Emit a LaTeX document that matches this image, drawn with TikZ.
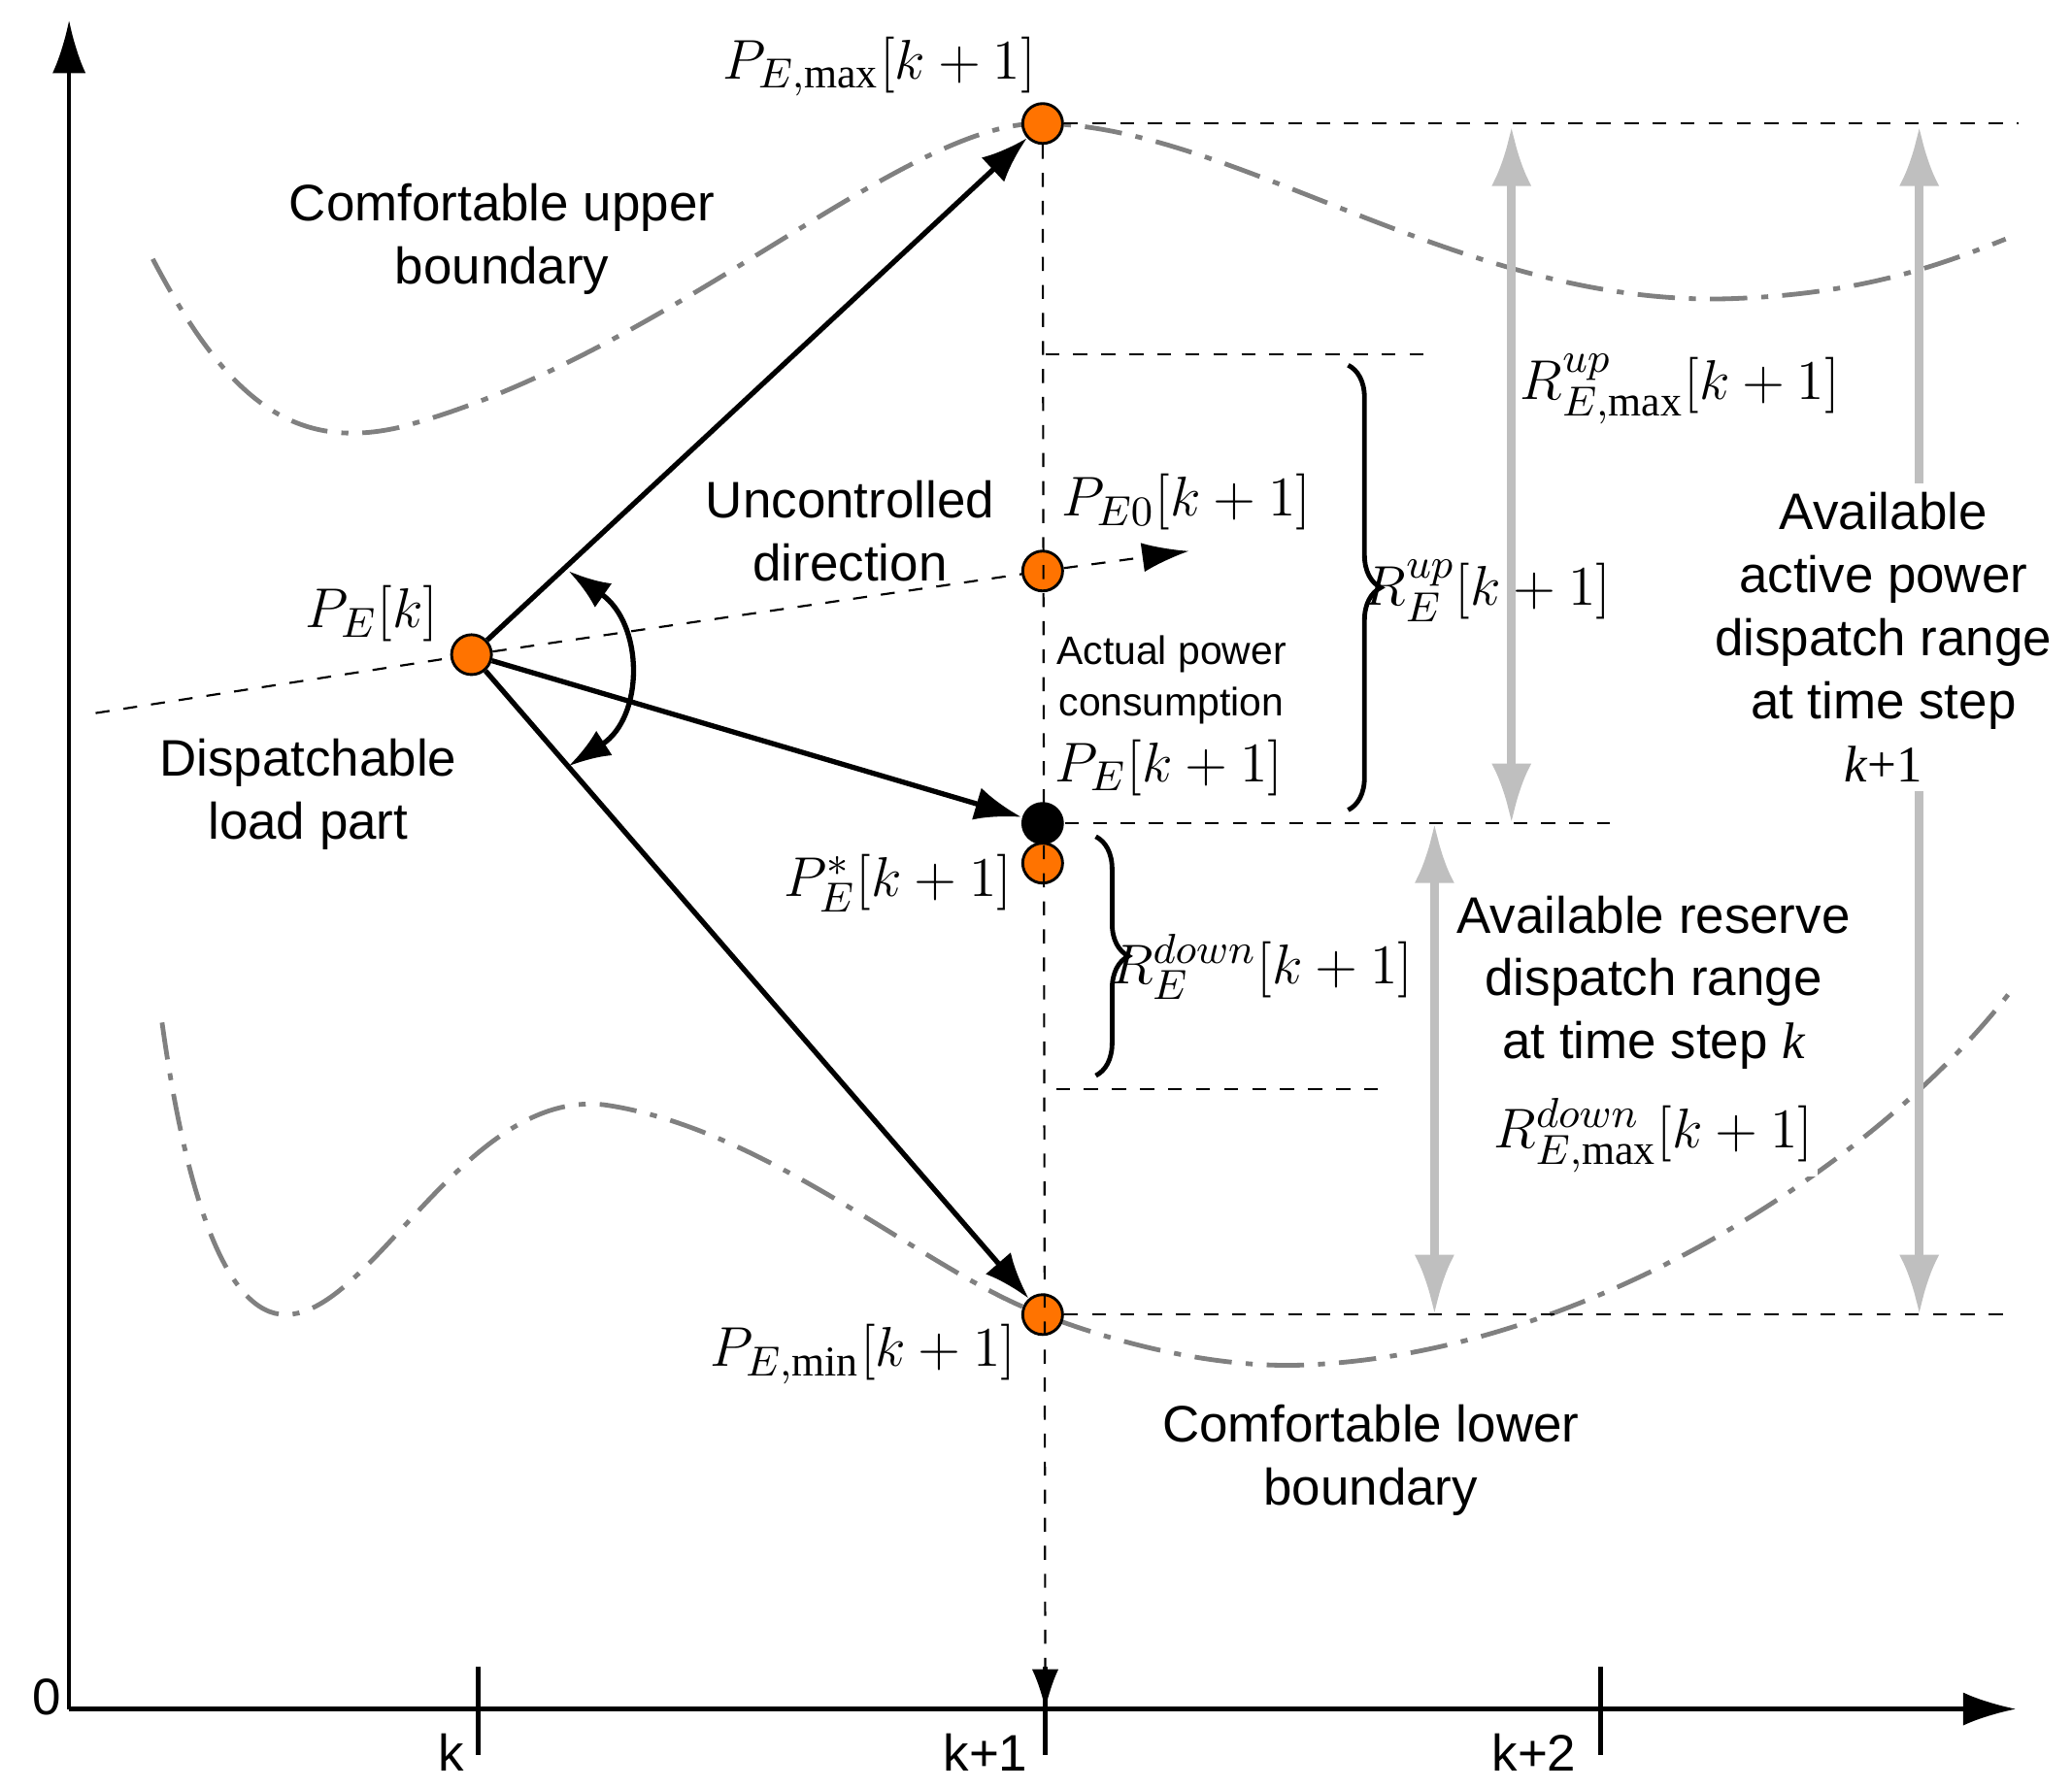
\documentclass[tikz,border=0pt]{standalone}
\usepackage{fontspec}
\setmainfont{Liberation Serif}
\newfontfamily\sfa{Liberation Sans}
\usetikzlibrary{arrows.meta,decorations.pathreplacing}
\begin{document}
\begin{tikzpicture}[x=0.01cm,y=-0.01cm,
  dot/.style={circle,draw=black,fill=orange!90!red,minimum size=0.3cm,inner sep=0pt,line width=0.6pt},
  main/.style={line width=1.1pt,-{Latex[length=0.35cm,width=0.25cm]}},
  dsh/.style={dashed,line width=0.45pt},
  bnd/.style={gray,line width=1pt,dash pattern=on 8pt off 3pt on 1.5pt off 3pt},
  garr/.style={gray!50,line width=1.8pt,{Latex[length=0.45cm,width=0.3cm]}-{Latex[length=0.45cm,width=0.3cm]}},
  brc/.style={line width=1pt,decoration={brace,amplitude=7pt},decorate},
  lbl/.style={font=\sfa\fontsize{11}{13.5}\selectfont,align=center},
  mth/.style={font=\fontsize{13}{15}\selectfont}]
\useasboundingbox (0,0) rectangle (1560,1347);
% axes
\coordinate (o) at (52,1287);
\coordinate (yt) at (52,15);
\coordinate (xt) at (1518,1287);
\draw[line width=0.9pt,-{Latex[length=0.4cm,width=0.25cm]}] (o)--(yt);
\draw[line width=0.9pt,-{Latex[length=0.4cm,width=0.25cm]}] (o)--(xt);
\node[lbl] at (35,1278) {0};
\foreach \x in {360,787,1205}{\draw[line width=1.1pt] (\x,1255)--(\x,1322);}
\node[lbl] at (340,1320) {k};
\node[lbl] at (742,1320) {k+1};
\node[lbl] at (1155,1320) {k+2};
% boundaries
\draw[bnd] (115,195) .. controls (170,300) and (220,340) .. (300,322)
  .. controls (500,270) and (680,90) .. (785,93)
  .. controls (930,95) and (1100,230) .. (1300,225)
  .. controls (1400,222) and (1460,200) .. (1510,180);
\draw[bnd] (122,770) .. controls (140,900) and (170,990) .. (215,990)
  .. controls (280,990) and (350,820) .. (455,832)
  .. controls (580,850) and (700,960) .. (785,990)
  .. controls (850,1015) and (920,1030) .. (980,1028)
  .. controls (1200,1020) and (1420,870) .. (1515,745);
% points
\node[dot] (pk) at (355,493) {};
\node[dot] (pmax) at (785,93) {};
\node[dot] (p0) at (785,430) {};
\node[dot] (pst) at (785,650) {};
\node[dot] (pmin) at (785,990) {};
\node[circle,fill=black,minimum size=0.32cm,inner sep=0pt] (pe) at (785,620) {};
\coordinate (dl) at (72,537);
\coordinate (dr) at (895,415);
\draw[dsh] (dl)--(pk);
\draw[dsh,-{Latex[length=0.35cm,width=0.22cm]}] (pk)--(p0)--(dr);
\coordinate (vb) at (787,1287);
\draw[dsh,-{Latex[length=0.3cm,width=0.2cm]}] (pmax)--(vb);
\draw[dsh] (pmax)--(1520,93);
\draw[dsh] (787,267)--(1078,267);
\draw[dsh] (pe)--(1212,620);
\draw[dsh] (795,820)--(1037,820);
\draw[dsh] (pmin)--(1515,990);
% main arrows
\draw[main] (pk)--(pmax);
\draw[main] (pk)--(pe);
\draw[main] (pk)--(pmin);
\draw[line width=1.1pt,{Latex[length=0.32cm,width=0.22cm]}-{Latex[length=0.32cm,width=0.22cm]}] (428,430) .. controls (485,470) and (485,540) .. (428,577);
% gray arrows
\draw[garr] (1138,95)--(1138,620);
\draw[garr] (1080,620)--(1080,990);
\draw[garr] (1445,95)--(1445,990);
% braces
\draw[brc] (1015,275)--(1015,610);
\draw[brc] (825,630)--(825,810);
% labels
\node[mth] at (662,50) {$P_{E,\max}[k+1]$};
\node[mth] at (280,462) {$P_{E}[k]$};
\node[mth] at (893,378) {$P_{E0}[k+1]$};
\node[mth] at (880,578) {$P_{E}[k+1]$};
\node[mth] at (676,665) {$P^{*}_{E}[k+1]$};
\node[mth] at (650,1020) {$P_{E,\min}[k+1]$};
\node[mth] at (1120,445) {$R^{up}_{E}[k+1]$};
\node[mth] at (950,728) {$R^{down}_{E}[k+1]$};
\node[mth,fill=white,inner sep=1pt] at (1265,293) {$R^{up}_{E,\max}[k+1]$};
\node[lbl] at (378,180) {Comfortable upper\\boundary};
\node[lbl] at (640,400) {Uncontrolled\\direction};
\node[lbl] at (232,598) {Dispatchable\\load part};
\node[font=\sfa\fontsize{8.5}{11}\selectfont,align=center] at (882,512) {Actual power\\consumption};
\node[lbl] at (1032,1100) {Comfortable lower\\boundary};
\node[lbl,fill=white,inner sep=2pt] at (1418,480) {Available\\active power\\dispatch range\\at time step\\{\rmfamily\itshape k}{\rmfamily+1}};
\node[lbl,fill=white,inner sep=1pt] at (1245,740) {Available reserve\\dispatch range\\at time step {\rmfamily\itshape k}};
\node[mth,fill=white,inner sep=1pt] at (1245,855) {$R^{down}_{E,\max}[k+1]$};
\end{tikzpicture}
\end{document}
